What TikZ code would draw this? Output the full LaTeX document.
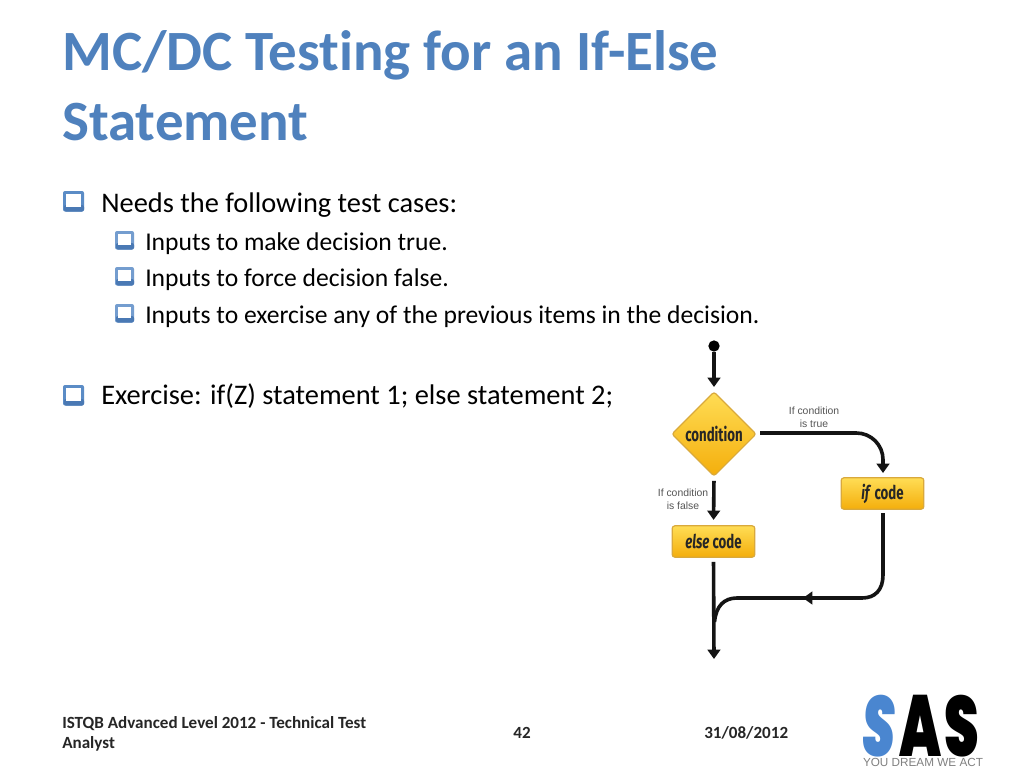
\documentclass[tikz,border=0pt]{standalone}
\usepackage{fontspec}
\usepackage{graphicx}
\setmainfont{Carlito}[Ligatures=NoCommon]
\newfontfamily\lab{Liberation Sans}
\newfontfamily\fira{Fira Sans}
\newfontfamily\logof{Poppins}[UprightFont=* Black,ItalicFont=* Black Italic]
\usetikzlibrary{shapes.geometric,arrows.meta}
\definecolor{titleblue}{HTML}{4F81BD}
\definecolor{bulletblue}{HTML}{5B8CC6}
\definecolor{bulletdark}{HTML}{4A79B4}
\definecolor{boxedge}{HTML}{D9A93C}
\definecolor{flowtop}{HTML}{FFDD55}
\definecolor{flowbot}{HTML}{F4AE0C}
\definecolor{sasblue}{HTML}{4A86D0}
\definecolor{labgray}{HTML}{555555}
\tikzset{
 titletext/.style={anchor=base west,inner sep=0,font=\fontsize{42.7}{42.7}\selectfont\bfseries,text=titleblue},
 bodytext/.style={anchor=base west,inner sep=0,font=\fontsize{21.3}{21.3}\selectfont,text=black},
 subtext/.style={anchor=base west,inner sep=0,font=\fontsize{19.2}{19.2}\selectfont,text=black},
 foot/.style={anchor=base west,inner sep=0,font=\fontsize{12.8}{12.8}\selectfont\bfseries,text=black!85},
 flowbox/.style={rectangle,rounded corners=2pt,draw=boxedge,line width=.9pt,top color=flowtop,bottom color=flowbot,minimum width=62pt,minimum height=23.5pt,inner sep=0,text=black!85},
 decision/.style={diamond,rounded corners=2pt,draw=boxedge,line width=.9pt,top color=flowtop,bottom color=flowbot,minimum width=63.5pt,minimum height=63.5pt,inner sep=0,text=black!85},
 note/.style={align=center,inner sep=0,font=\lab\fontsize{7.8}{9.4}\selectfont,text=labgray},
 flowline/.style={line width=2.7pt,draw=black!92},
 flowarrow/.style={flowline,-{Triangle[width=9.5pt,length=7pt]}},
 logoletter/.style={anchor=base west,inner sep=0},
}
\newcommand{\fl}[1]{\fira\bfseries\fontsize{14.2}{14.2}\selectfont\scalebox{.7}[1]{#1}}
\newcommand{\logoglyph}[3]{\logof\fontsize{60}{60}\selectfont\resizebox{#1}{#2}{#3}}
\newcommand{\bigbox}[2]{%
 \fill[bulletblue,rounded corners=1.5pt] (#1,#2) rectangle (#1+21,#2+20.5);
 \fill[bulletdark,rounded corners=1.5pt] (#1+1,#2+14) rectangle (#1+21,#2+20.5);
 \fill[white] (#1+3,#2+3) rectangle (#1+17.5,#2+15.5);}
\newcommand{\smallbox}[2]{%
 \fill[bulletblue!85,rounded corners=1.5pt] (#1,#2) rectangle (#1+19,#2+18.5);
 \fill[bulletdark,rounded corners=1.5pt] (#1+1,#2+12) rectangle (#1+19,#2+18.5);
 \fill[white] (#1+2.5,#2+2.5) rectangle (#1+16,#2+14);}
\begin{document}
\begin{tikzpicture}[x=.75pt,y=-.75pt]
\useasboundingbox (0,0) rectangle (1024,768);
\fill[white] (0,0) rectangle (1024,768);
\node[titletext] (t1) at (62,70) {MC/DC Testing for an If-Else};
\node[titletext] (t2) at (62,140) {Statement};
\bigbox{63}{191}
\node[bodytext] (b1) at (101,212) {Needs the following test cases:};
\smallbox{115}{231}
\node[subtext] (s1) at (145,250) {Inputs to make decision true.};
\smallbox{115}{267}
\node[subtext] (s2) at (145,286) {Inputs to force decision false.};
\smallbox{115}{304}
\node[subtext] (s3) at (145,323) {Inputs to exercise any of the previous items in the decision.};
\bigbox{63}{385}
\node[bodytext] (b2) at (101,404) {Exercise: if(Z) statement 1; else statement 2;};
% flowchart
\node[circle,fill=black,minimum size=8.5pt,inner sep=0] (start) at (714,346) {};
\node[decision] (cond) at (714,434) {\fl{condition}};
\node[flowbox] (ifc) at (882.5,493.5) {\fl{\textit{if} code}};
\node[flowbox] (elsec) at (713.5,541.5) {\fl{\textit{else} code}};
\coordinate (endpt) at (714,659);
\coordinate (merge) at (714.5,622);
\coordinate (m1) at (825,598);
\coordinate (m2) at (803,598);
\draw[flowarrow] (start.south) -- (714,387);
\draw[flowarrow,rounded corners=20pt] (760,433) -- (883,433) -- (883,473);
\draw[flowarrow,shorten <=3pt,shorten >=4pt] (cond.south) -- (elsec.north);
\draw[flowarrow,shorten <=3pt] (elsec.south) -- (endpt);
\draw[flowline] (883,513) -- (883,575) .. controls (883,590) and (875,598) .. (862,598) -- (737,598) .. controls (724,598) and (716,606) .. (merge);
\draw[flowarrow] (m1) -- (m2);
\node[note] (n1) at (814,417.5) {If condition\\is true};
\node[note] (n2) at (683,499.5) {If condition\\is false};
% footer
\node[foot] (f1) at (62,728) {ISTQB Advanced Level 2012 - Technical Test};
\node[foot] (f2) at (62,748) {Analyst};
\node[foot,anchor=base] (f3) at (522,738) {42};
\node[foot] (f4) at (704,738) {31/08/2012};
% logo
\node[logoletter,text=sasblue] (l1) at (862,756) {\logoglyph{25pt}{46pt}{\textit{S}}};
\node[logoletter,text=black] (l2) at (899,756) {\logoglyph{31.5pt}{46pt}{A}};
\node[logoletter,text=black] (l3) at (944,756) {\logoglyph{26pt}{46pt}{S}};
\node[anchor=base,inner sep=0,font=\lab\fontsize{8.8}{8.8}\selectfont,text=black!50] (l4) at (923,766) {YOU DREAM WE ACT};
\end{tikzpicture}
\end{document}
